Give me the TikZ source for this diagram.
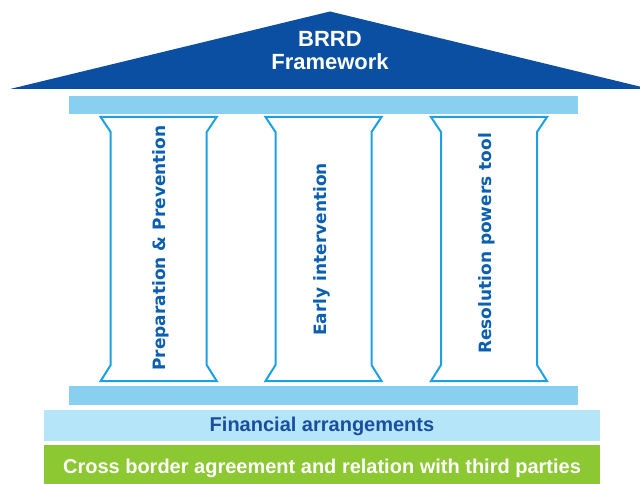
\documentclass[tikz,border=0pt]{standalone}
\usepackage{fontspec}
\setmainfont{Liberation Sans}
\newfontfamily\pillarfont{DejaVu Sans}
\definecolor{roofblue}{HTML}{0B4FA2}
\definecolor{barblue}{HTML}{89CFF0}
\definecolor{finblue}{HTML}{B5E5F8}
\definecolor{fintext}{HTML}{1A4E9E}
\definecolor{pillarline}{HTML}{1BA1E3}
\definecolor{pillartext}{HTML}{0A5FB0}
\definecolor{greenbar}{HTML}{8BC832}
\begin{document}
\begin{tikzpicture}[x=1pt,y=-1pt,
  pillarshape/.style={draw=pillarline,line width=2pt,fill=white,line join=miter},
  pillarlabel/.style={rotate=90,anchor=base,inner sep=0pt,text=pillartext,font=\pillarfont\bfseries\fontsize{17}{20}\selectfont},
  barlabel/.style={anchor=base,inner sep=0pt,font=\bfseries\fontsize{20}{24}\selectfont},
  rooflabel/.style={anchor=base,inner sep=0pt,text=white,font=\bfseries\fontsize{22}{24}\selectfont}]
\useasboundingbox (0,0) rectangle (640,484);
\clip (0,0) rectangle (640,484);
% roof
\fill[roofblue] (10,89) -- (330,11.5) -- (650,89) -- cycle;
\node[rooflabel] (brrd) at (330,47) {BRRD};
\node[rooflabel] (framework) at (330,70) {Framework};
% top and bottom beams
\fill[barblue] (69,96) rectangle (578,114);
\fill[barblue] (69,386) rectangle (578,405);
% pillars
\foreach \L in {100.7,265.5,431}{
  \draw[pillarshape] (\L,117) -- ({\L+116},117) -- ({\L+106},132) -- ({\L+106},365) -- ({\L+116},381)
     -- (\L,381) -- ({\L+10},365) -- ({\L+10},132) -- cycle;
}
\node[pillarlabel] (p1) at (165.7,248) {Preparation \& Prevention};
\node[pillarlabel] (p2) at (326.7,249.5) {Early intervention};
\node[pillarlabel] (p3) at (491.6,243.5) {Resolution powers tool};
% financial arrangements
\fill[finblue] (44,410) rectangle (600,441);
\node[barlabel,text=fintext] (fin) at (322,431.5) {Financial arrangements};
% cross border
\fill[greenbar] (44,445) rectangle (600,484);
\node[barlabel,text=white] (cross) at (322,473.3) {Cross border agreement and relation with third parties};
\end{tikzpicture}
\end{document}
